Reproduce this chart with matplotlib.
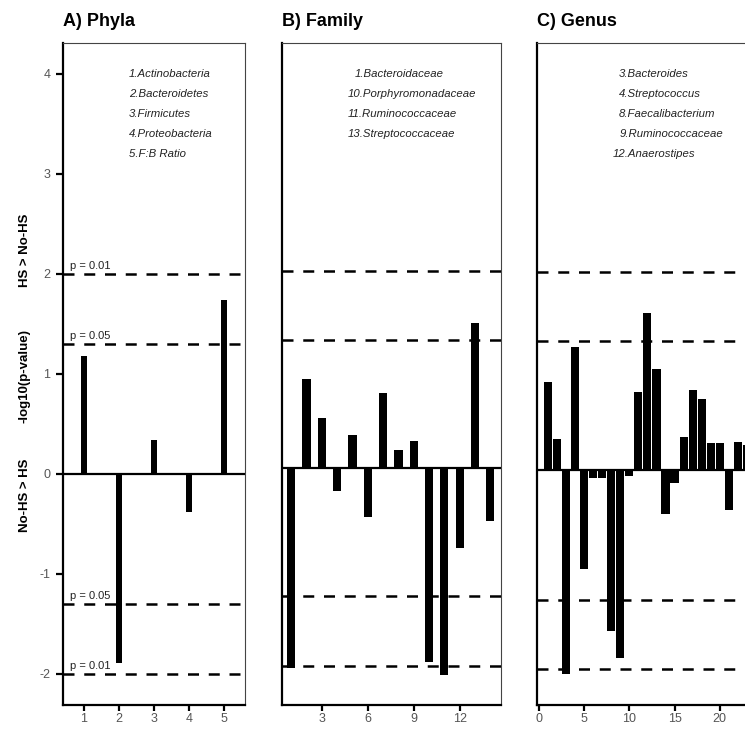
import numpy as np
import matplotlib
matplotlib.use("Agg")
from matplotlib import pyplot as plt

plt.rcParams['font.family'] = ['Liberation Sans', 'DejaVu Sans']
plt.rcParams['axes.unicode_minus'] = False

# values: -log10(p), signed by direction
phyla_vals = [1.18, -1.89, 0.34, -0.38, 1.74]
family_vals = [-2.03, 0.90, 0.51, -0.23, 0.34, -0.49, 0.76, 0.18, 0.28,
               -1.96, -2.10, -0.81, 1.47, -0.53]
genus_vals = [0.89, 0.32, -2.05, 1.24, -0.99, -0.08, -0.08, -1.62, -1.89,
              -0.06, 0.79, 1.58, 1.02, -0.44, -0.13, 0.34, 0.81, 0.72,
              0.28, 0.28, -0.40, 0.29, 0.26]

phyla_names = ["1.Actinobacteria", "2.Bacteroidetes", "3.Firmicutes",
               "4.Proteobacteria", "5.F:B Ratio"]
family_names = ["1.Bacteroidaceae", "10.Porphyromonadaceae",
                "11.Ruminococcaceae", "13.Streptococcaceae"]
genus_names = ["3.Bacteroides", "4.Streptococcus", "8.Faecalibacterium",
               "9.Ruminococcaceae", "12.Anaerostipes"]

phyla_ticks = [1, 2, 3, 4, 5]
family_ticks = [3, 6, 9, 12]
genus_ticks = [0, 5, 10, 15, 20]

sig_levels = [1.3, 2.0]
sig_labels = ["p = 0.05", "p = 0.01"]

W, H = 745, 730
fig = plt.figure(figsize=(W / 100, H / 100), dpi=100)

def px_axes(left, right, top=43, bottom=705):
    return fig.add_axes([left / W, (H - bottom) / H, (right - left) / W, (bottom - top) / H])

def style(ax):
    for s in ['top', 'right']:
        ax.spines[s].set_linewidth(0.8)
        ax.spines[s].set_color('#444444')
    for s in ['left', 'bottom']:
        ax.spines[s].set_linewidth(1.6)
        ax.spines[s].set_color('black')
    ax.tick_params(axis='x', direction='out', length=4, width=1.6, color='black',
                   labelsize=9, labelcolor='#555555', pad=2)
    ax.tick_params(axis='y', direction='out', length=5, width=1.6, color='black',
                   labelsize=9, labelcolor='#555555', pad=4)
    ax.axhline(0, color='black', lw=1.6, zorder=3)
    for lv in sig_levels:
        ax.axhline(lv, color='black', lw=1.8, ls=(0, (4.4, 3.9)), zorder=3)
        ax.axhline(-lv, color='black', lw=1.8, ls=(0, (4.4, 3.9)), zorder=3)

def legend_text(ax, names, x0, digit=0.03):
    for i, nm in enumerate(names):
        nd = len(nm.split('.')[0])
        ax.text(x0 - (nd - 1) * digit, 0.953 - i * 0.0302, nm, transform=ax.transAxes,
                ha='left', va='center', fontsize=8.2, style='italic', color='#222222')

# A) Phyla
axA = px_axes(63, 245)
x = np.arange(1, len(phyla_vals) + 1)
axA.bar(x, phyla_vals, width=0.16, color='black', zorder=2)
axA.set_xlim(0.4, 5.6)
axA.set_ylim(-2.31, 4.31)
axA.set_xticks(phyla_ticks)
axA.set_yticks([-2, -1, 0, 1, 2, 3, 4])
style(axA)
for lv, lab in zip(sig_levels, sig_labels):
    axA.text(0.6, lv + 0.03, lab, fontsize=8, color='#222222', ha='left', va='bottom')
    axA.text(0.6, -lv + 0.03, lab, fontsize=8, color='#222222', ha='left', va='bottom')
legend_text(axA, phyla_names, 0.363)

# B) Family
axB = px_axes(282, 501)
x = np.arange(1, len(family_vals) + 1)
axB.bar(x, family_vals, width=0.54, color='black', zorder=2)
axB.set_xlim(0.4, 14.7)
axB.set_ylim(-2.40, 4.31)
axB.set_xticks(family_ticks)
axB.set_yticks([])
style(axB)
legend_text(axB, family_names, 0.33)

# C) Genus (panel runs past the right edge)
axC = px_axes(537, 756)
x = np.arange(1, len(genus_vals) + 1)
axC.bar(x, genus_vals, width=0.9, color='black', zorder=2)
axC.set_xlim(-0.2, 24)
axC.set_ylim(-2.36, 4.30)
axC.set_xticks(genus_ticks)
axC.set_yticks([])
style(axC)
legend_text(axC, genus_names, 0.375)

# titles
for xp, t in [(63, "A) Phyla"), (282, "B) Family"), (537, "C) Genus")]:
    fig.text(xp / W, (H - 26) / H, t, fontsize=13, fontweight='bold', ha='left', va='baseline')

# y-axis labels
for yp, t in [(250, "HS > No-HS"), (376, "-log10(p-value)"), (495, "No-HS > HS")]:
    fig.text(25 / W, (H - yp) / H, t, fontsize=9.5, fontweight='bold', rotation=90,
             ha='center', va='center')

fig.savefig("out.png", dpi=100)
